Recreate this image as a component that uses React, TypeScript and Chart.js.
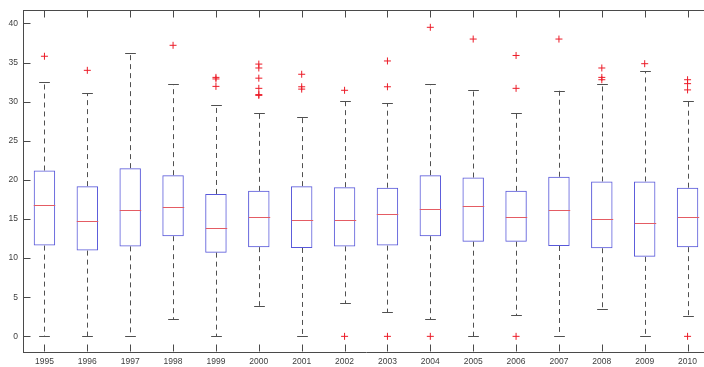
import { useEffect, useRef } from 'react';
import { Chart, registerables } from 'chart.js';

Chart.register(...registerables);

// Yearly distributions: quartiles, whisker ends and outliers
const years = ['1995', '1996', '1997', '1998', '1999', '2000', '2001', '2002', '2003', '2004', '2005', '2006', '2007', '2008', '2009', '2010'];
const lowerWhisker = [0, 0, 0, 2.2, 0, 3.9, 0, 4.2, 3.1, 2.2, 0, 2.7, 0, 3.5, 0, 2.65];
const q1 = [11.6, 10.96, 11.5, 12.8, 10.7, 11.4, 11.3, 11.5, 11.6, 12.8, 12.1, 12.1, 11.55, 11.26, 10.16, 11.4];
const medians = [16.8, 14.8, 16.2, 16.5, 13.8, 15.2, 14.9, 14.9, 15.6, 16.3, 16.7, 15.2, 16.1, 15.0, 14.45, 15.3];
const q3 = [21.2, 19.2, 21.5, 20.6, 18.2, 18.6, 19.2, 19.07, 19.0, 20.6, 20.3, 18.6, 20.4, 19.8, 19.8, 19.0];
const upperWhisker = [32.45, 31.1, 36.2, 32.2, 29.6, 28.6, 28.0, 30.06, 29.8, 32.25, 31.5, 28.55, 31.4, 32.3, 33.9, 30.1];
const outliers: number[][] = [
  [35.8],
  [34.0],
  [],
  [37.2],
  [33.1, 32.9, 31.95],
  [34.8, 34.3, 33.0, 31.7, 30.9, 30.8],
  [33.5, 31.9, 31.6],
  [31.45, 0],
  [35.2, 31.9, 0],
  [39.5, 0],
  [38.0],
  [35.9, 31.7, 0],
  [38.0],
  [34.3, 33.1, 32.8],
  [34.85],
  [32.8, 32.3, 31.5, 0],
];
const yTickValues = [0, 5, 10, 15, 20, 25, 30, 35, 40];

const AXIS_COLOR = '#4a4a4a';
const BOX_COLOR = 'rgb(88, 88, 218)';
const MEDIAN_COLOR = 'rgb(228, 92, 100)';
const WHISKER_COLOR = '#505050';
const OUTLIER_COLOR = 'rgb(236, 28, 40)';
const TICK_FONT = { family: "'Liberation Sans', Arial, sans-serif", size: 8.5 };

// Whiskers, caps, medians, inward ticks and the top frame line
const boxDecorations = {
  id: 'boxDecorations',
  afterDatasetsDraw(chart: any) {
    const { ctx, chartArea, scales } = chart;
    const xs = scales.x;
    const ys = scales.y;
    const spacing = xs.getPixelForValue(1) - xs.getPixelForValue(0);
    const boxHalf = spacing * 0.25;
    const capHalf = spacing * 0.125;
    ctx.save();
    ctx.lineWidth = 1;

    years.forEach((_, i) => {
      const x = Math.round(xs.getPixelForValue(i)) + 0.5;
      const yUp = ys.getPixelForValue(upperWhisker[i]);
      const yQ3 = ys.getPixelForValue(q3[i]);
      const yQ1 = ys.getPixelForValue(q1[i]);
      const yLow = ys.getPixelForValue(lowerWhisker[i]);
      const yMed = Math.round(ys.getPixelForValue(medians[i])) + 0.5;

      ctx.strokeStyle = WHISKER_COLOR;
      ctx.setLineDash([5, 4]);
      ctx.beginPath();
      ctx.moveTo(x, yQ3);
      ctx.lineTo(x, yUp);
      ctx.moveTo(x, yQ1);
      ctx.lineTo(x, yLow);
      ctx.stroke();

      ctx.setLineDash([]);
      ctx.beginPath();
      const cu = Math.round(yUp) + 0.5;
      const cl = Math.round(yLow) + 0.5;
      ctx.moveTo(x - capHalf, cu);
      ctx.lineTo(x + capHalf, cu);
      ctx.moveTo(x - capHalf, cl);
      ctx.lineTo(x + capHalf, cl);
      ctx.stroke();

      ctx.strokeStyle = MEDIAN_COLOR;
      ctx.beginPath();
      ctx.moveTo(x - boxHalf, yMed);
      ctx.lineTo(x + boxHalf, yMed);
      ctx.stroke();
    });

    // inward tick marks and top frame
    ctx.strokeStyle = AXIS_COLOR;
    ctx.beginPath();
    const top = Math.round(chartArea.top) + 0.5;
    const bottom = Math.round(chartArea.bottom) - 0.5;
    const left = Math.round(chartArea.left) + 0.5;
    ctx.moveTo(left - 0.5, top);
    ctx.lineTo(chartArea.right, top);
    years.forEach((_, i) => {
      const x = Math.round(xs.getPixelForValue(i)) + 0.5;
      ctx.moveTo(x, top);
      ctx.lineTo(x, top + 7);
      ctx.moveTo(x, bottom);
      ctx.lineTo(x, bottom - 7);
    });
    yTickValues.forEach((v) => {
      const y = Math.round(ys.getPixelForValue(v)) + 0.5;
      ctx.moveTo(left, y);
      ctx.lineTo(left + 7, y);
    });
    ctx.stroke();
    ctx.restore();
  },
};

export default function App() {
  const canvasRef = useRef<HTMLCanvasElement | null>(null);

  useEffect(() => {
    const canvas = canvasRef.current;
    if (!canvas) return;

    const outlierPoints: { x: string; y: number }[] = [];
    outliers.forEach((vals, i) => vals.forEach((v) => outlierPoints.push({ x: years[i], y: v })));

    const chart = new Chart(canvas, {
      type: 'bar',
      data: {
        labels: years,
        datasets: [
          {
            type: 'bar',
            data: years.map((_, i) => [q1[i], q3[i]]),
            backgroundColor: 'rgba(255,255,255,0)',
            borderColor: BOX_COLOR,
            borderWidth: 1,
            borderSkipped: false,
            categoryPercentage: 1,
            barPercentage: 0.5,
          } as any,
          {
            type: 'line',
            data: outlierPoints as any,
            showLine: false,
            pointStyle: 'cross',
            pointRadius: 3.5,
            pointBorderWidth: 1,
            pointBorderColor: OUTLIER_COLOR,
            borderColor: OUTLIER_COLOR,
            backgroundColor: OUTLIER_COLOR,
          } as any,
        ],
      },
      options: {
        responsive: false,
        animation: false,
        devicePixelRatio: 1,
        layout: { padding: { top: 5, right: 2, left: 0, bottom: 0 } },
        plugins: {
          legend: { display: false },
          tooltip: { enabled: false },
        },
        scales: {
          x: {
            type: 'category',
            offset: true,
            grid: { display: true, drawOnChartArea: false, drawTicks: false },
            border: { display: true, color: AXIS_COLOR, width: 1 },
            ticks: { color: '#404040', font: TICK_FONT, padding: 5, maxRotation: 0, autoSkip: false },
            afterFit: (scale: any) => {
              scale.height = 15;
            },
          },
          y: {
            type: 'linear',
            min: -2,
            max: 41.7,
            grid: { display: true, drawOnChartArea: false, drawTicks: false },
            border: { display: true, color: AXIS_COLOR, width: 1 },
            ticks: { color: '#404040', font: TICK_FONT, padding: 5 },
            afterBuildTicks: (scale: any) => {
              scale.ticks = yTickValues.map((v) => ({ value: v }));
            },
            afterFit: (scale: any) => {
              scale.width = 23;
            },
          },
        },
      },
      plugins: [boxDecorations],
    });

    return () => chart.destroy();
  }, []);

  return (
    <div style={{ position: 'absolute', left: 0, top: 0, width: 704, height: 367, overflow: 'hidden', background: '#fff' }}>
      <canvas ref={canvasRef} width={714} height={367} style={{ display: 'block', width: 714, height: 367 }} />
    </div>
  );
}
